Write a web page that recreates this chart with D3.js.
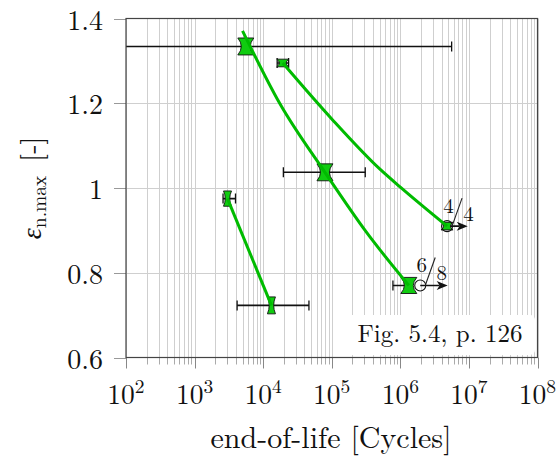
<!DOCTYPE html>
<html>
<head>
<meta charset="utf-8">
<script src="https://cdn.jsdelivr.net/npm/d3@7/dist/d3.min.js"></script>
<style>
  html, body { margin: 0; padding: 0; background: #fff; }
  svg { display: block; }
</style>
</head>
<body>
<svg id="chart" width="560" height="461"></svg>
<script>
// ---- data -------------------------------------------------------------
// series A: large specimens
const seriesA_N      = [5580, 79600, 1.33e6];
const seriesA_eps    = [1.334, 1.037, 0.770];
const seriesA_epsErr = [0.020, 0.020, 0.019];
const seriesA_Nlow   = [60, 19700, 7.8e5];
const seriesA_Nhigh  = [5.6e6, 308000, 1.33e6];

// series B: small specimens
const seriesB_N      = [19300, 4.8e6];
const seriesB_eps    = [1.295, 0.910];
const seriesB_epsErr = [0.009, 0.009];
const seriesB_Nlow   = [16000, 4.8e6];
const seriesB_Nhigh  = [23500, 4.8e6];

// series C: notched specimens
const seriesC_N      = [3020, 13200];
const seriesC_eps    = [0.975, 0.723];
const seriesC_epsErr = [0.018, 0.020];
const seriesC_Nlow   = [2600, 4170];
const seriesC_Nhigh  = [3950, 46500];

// fitted curves
const fitA_N   = [5000, 17400, 79600, 316000, 1.33e6];
const fitA_eps = [1.371, 1.200, 1.037, 0.897, 0.770];
const fitB_N   = [19300, 1e5, 5.0e5, 1e6, 4.8e6];
const fitB_eps = [1.295, 1.163, 1.045, 1.002, 0.910];
const fitC_N   = [3020, 13200];
const fitC_eps = [0.975, 0.723];

// run-outs (no failure) with arrow tip and counts
const runoutN    = [1.95e6, 4.8e6];
const runoutEps  = [0.770, 0.910];
const runoutTipN = [4.9e6, 9.6e6];
const runoutNum  = ["6", "4"];
const runoutDen  = ["8", "4"];

// axes
const xTickExps  = [2, 3, 4, 5, 6, 7, 8];
const yTicks     = [0.6, 0.8, 1.0, 1.2, 1.4];
const yTickLabels = ["0.6", "0.8", "1", "1.2", "1.4"];

// ---- layout -----------------------------------------------------------
const FONT = '"Latin Modern Roman", "Liberation Serif", serif';
const svg = d3.select("#chart");
const L = 126, R = 537.5, T = 18.5, B = 357.5;

const x = d3.scaleLog().domain([1e2, 1e8]).range([L, R]);
const y = d3.scaleLinear().domain([0.6, 1.4]).range([B, T]);

const GREEN_LINE = "#00bb00";
const GREEN_FILL = "#10cc10";

function txt(sel, size) {
  return sel.style("font-family", FONT).style("font-size", size + "px").attr("fill", "#111");
}

svg.append("defs").append("clipPath").attr("id", "plotclip")
  .append("rect").attr("x", L).attr("y", T).attr("width", R - L).attr("height", B - T);

// grid: every decade subdivision
const minorVals = [];
for (let e = 2; e < 8; e++) for (let m = 1; m <= 9; m++) minorVals.push(m * Math.pow(10, e));
minorVals.push(1e8);

const grid = svg.append("g");
grid.selectAll("line.vx").data(minorVals).enter().append("line")
  .attr("x1", d => Math.round(x(d)) + 0.5).attr("x2", d => Math.round(x(d)) + 0.5)
  .attr("y1", T).attr("y2", B)
  .attr("stroke", "#cfcfcf").attr("stroke-width", 1);
grid.selectAll("line.hy").data(yTicks.slice(1, -1)).enter().append("line")
  .attr("x1", L).attr("x2", R)
  .attr("y1", d => Math.round(y(d)) + 0.5).attr("y2", d => Math.round(y(d)) + 0.5)
  .attr("stroke", "#cfcfcf").attr("stroke-width", 1);

// x ticks below the frame
const isMajor = d => Math.abs(Math.log10(d) - Math.round(Math.log10(d))) < 1e-9;
svg.append("g").selectAll("line").data(minorVals).enter().append("line")
  .attr("x1", d => Math.round(x(d)) + 0.5).attr("x2", d => Math.round(x(d)) + 0.5)
  .attr("y1", B).attr("y2", d => isMajor(d) ? B + 11 : B + 7)
  .attr("stroke", d => isMajor(d) ? "#888" : "#aaa").attr("stroke-width", 1);

// y ticks left of the frame
svg.append("g").selectAll("line").data(yTicks).enter().append("line")
  .attr("x1", L - 12).attr("x2", L)
  .attr("y1", d => Math.round(y(d)) + 0.5).attr("y2", d => Math.round(y(d)) + 0.5)
  .attr("stroke", "#999").attr("stroke-width", 1);

// tick labels
const xl = txt(svg.append("g").selectAll("text").data(xTickExps).enter().append("text"), 27.5)
  .attr("x", d => x(Math.pow(10, d)))
  .attr("y", B + 46)
  .attr("text-anchor", "middle");
xl.append("tspan").text("10");
xl.append("tspan").attr("dy", -11).style("font-size", "19.5px").text(d => d);

txt(svg.append("g").selectAll("text").data(yTicks).enter().append("text"), 28)
  .attr("x", 103).attr("y", d => y(d) + 11)
  .attr("text-anchor", "end")
  .text((d, i) => yTickLabels[i]);

// axis titles
txt(svg.append("text"), 30).attr("x", 331).attr("y", 448).attr("text-anchor", "middle")
  .text("end-of-life [Cycles]");

const yt = txt(svg.append("text"), 28).attr("transform", "translate(41,188) rotate(-90)")
  .attr("text-anchor", "middle");
yt.append("tspan").style("font-style", "italic").text("\u03b5");
yt.append("tspan").attr("dy", 5).style("font-size", "19.5px").text("n.max");
yt.append("tspan").attr("dy", -5).text("\u2002[-]");

// plot contents
const plot = svg.append("g").attr("clip-path", "url(#plotclip)");

const series = [
  { N: seriesA_N, eps: seriesA_eps, err: seriesA_epsErr, lo: seriesA_Nlow, hi: seriesA_Nhigh, hw: 8 },
  { N: seriesB_N, eps: seriesB_eps, err: seriesB_epsErr, lo: seriesB_Nlow, hi: seriesB_Nhigh, hw: 6 },
  { N: seriesC_N, eps: seriesC_eps, err: seriesC_epsErr, lo: seriesC_Nlow, hi: seriesC_Nhigh, hw: 4 }
];

// horizontal scatter bars
series.forEach(s => {
  s.N.forEach((n, i) => {
    const lo = s.lo[i], hi = s.hi[i];
    if (lo === hi) return;
    const yy = y(s.eps[i]);
    plot.append("line").attr("x1", x(lo)).attr("x2", x(hi)).attr("y1", yy).attr("y2", yy)
      .attr("stroke", "#111").attr("stroke-width", 1.6);
    [lo, hi].forEach(v => {
      plot.append("line").attr("x1", x(v)).attr("x2", x(v)).attr("y1", yy - 5).attr("y2", yy + 5)
        .attr("stroke", "#111").attr("stroke-width", 1.3);
    });
  });
});

// run-out arrows
const arrowG = plot.append("g");
runoutN.forEach((n, i) => {
  const cx = x(n), cy = y(runoutEps[i]), tx = x(runoutTipN[i]);
  arrowG.append("line").attr("x1", cx).attr("x2", tx - 8).attr("y1", cy).attr("y2", cy)
    .attr("stroke", "#111").attr("stroke-width", 1.6);
  arrowG.append("path")
    .attr("d", `M${tx},${cy} L${tx - 11},${cy - 4.5} L${tx - 8},${cy} L${tx - 11},${cy + 4.5} Z`)
    .attr("fill", "#111");
});

// hourglass markers
function hourglass(cx, cy, hw, hh) {
  const k = 0.12;
  return `M${cx - hw},${cy - hh} L${cx + hw},${cy - hh} ` +
         `Q${cx + hw * k},${cy} ${cx + hw},${cy + hh} ` +
         `L${cx - hw},${cy + hh} ` +
         `Q${cx - hw * k},${cy} ${cx - hw},${cy - hh} Z`;
}
series.forEach(s => {
  s.N.forEach((n, i) => {
    const cy = y(s.eps[i]);
    const hh = y(s.eps[i] - s.err[i]) - cy;
    plot.append("path").attr("d", hourglass(x(n), cy, s.hw, hh))
      .attr("fill", GREEN_FILL).attr("stroke", "#111").attr("stroke-width", 0.9);
  });
});

// run-out circles drawn over markers
runoutN.forEach((n, i) => {
  plot.append("circle").attr("cx", x(n)).attr("cy", y(runoutEps[i])).attr("r", 5.5)
    .attr("fill", "none").attr("stroke", "#111").attr("stroke-width", 1.1);
});

// fitted curves
const fitLine = d3.line().x(d => x(d[0])).y(d => y(d[1])).curve(d3.curveMonotoneX);
[[fitA_N, fitA_eps], [fitB_N, fitB_eps], [fitC_N, fitC_eps]].forEach(([ns, es]) => {
  plot.append("path").attr("d", fitLine(ns.map((n, i) => [n, es[i]])))
    .attr("fill", "none").attr("stroke", GREEN_LINE).attr("stroke-width", 3)
    .attr("stroke-linecap", "butt");
});

// run-out counts
runoutN.forEach((n, i) => {
  const cx = x(n), cy = y(runoutEps[i]);
  svg.append("line").attr("x1", cx + 5).attr("y1", cy).attr("x2", cx + 15).attr("y2", cy - 28)
    .attr("stroke", "#222").attr("stroke-width", 1.1);
  txt(svg.append("text"), 21).attr("x", cx + 1.5).attr("y", cy - 13).attr("text-anchor", "middle")
    .text(runoutNum[i]);
  txt(svg.append("text"), 21).attr("x", cx + 21.5).attr("y", cy - 5).attr("text-anchor", "middle")
    .text(runoutDen[i]);
});

// source note
svg.append("rect").attr("x", 343).attr("y", 315).attr("width", 192).attr("height", 40)
  .attr("rx", 5).attr("fill", "#fff");
txt(svg.append("text"), 25).attr("x", 440).attr("y", 342).attr("text-anchor", "middle")
  .text("Fig. 5.4, p. 126");

// frame
svg.append("rect").attr("x", L).attr("y", T).attr("width", R - L).attr("height", B - T)
  .attr("fill", "none").attr("stroke", "#444").attr("stroke-width", 1.2);
</script>
</body>
</html>
